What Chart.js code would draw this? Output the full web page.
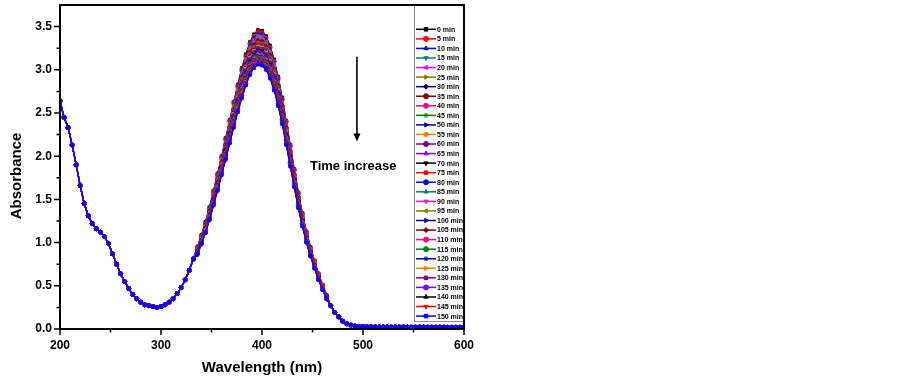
<!DOCTYPE html>
<html>
<head>
<meta charset="utf-8">
<script src="https://cdn.jsdelivr.net/npm/chart.js@4.4.0/dist/chart.umd.min.js"></script>
<style>
  html, body { margin: 0; padding: 0; background: #fff; }
  #wrap { width: 903px; height: 382px; }
</style>
</head>
<body>
<div id="wrap"><canvas id="spectra" width="903" height="382"></canvas></div>
<script>
// --- Data ---
const times = [0, 5, 10, 15, 20, 25, 30, 35, 40, 45, 50, 55, 60, 65, 70, 75,
  80, 85, 90, 95, 100, 105, 110, 115, 120, 125, 130, 135, 140, 145, 150];

const wavelengths = [200, 204, 208, 212, 216, 220, 224, 228, 232, 236, 240, 244, 248, 252, 256, 260,
  264, 268, 272, 276, 280, 284, 288, 292, 296, 300, 304, 308, 312, 316, 320, 324, 328, 332,
  336, 340, 344, 348, 352, 356, 360, 364, 368, 372, 376, 380, 384, 388, 392, 396, 400, 404,
  408, 412, 416, 420, 424, 428, 432, 436, 440, 444, 448, 452, 456, 460, 464,
  468, 472, 476, 480, 484, 488, 492, 496, 500, 504, 508, 512, 516, 520, 524, 528, 532, 536,
  540, 544, 548, 552, 556, 560, 564, 568, 572, 576, 580, 584, 588, 592, 596, 600];

// 200-332 nm: all curves lie on top of each other
const uvEdge = [2.64, 2.45, 2.33, 2.13, 1.90, 1.66, 1.45, 1.31, 1.22, 1.16, 1.12, 1.07, 0.99, 0.87,
  0.75, 0.64, 0.55, 0.47, 0.40, 0.35, 0.31, 0.28, 0.27, 0.26, 0.25, 0.26, 0.28, 0.31, 0.35, 0.41,
  0.48, 0.57, 0.68, 0.81];

// 468-600 nm: all curves lie on top of each other
const tailEdge = [0.27, 0.19, 0.14, 0.09, 0.06, 0.045, 0.035, 0.03, 0.027, 0.026, 0.025, 0.025,
  0.024, 0.024, 0.024, 0.023, 0.023, 0.023, 0.023, 0.022, 0.022, 0.022, 0.022, 0.022, 0.021,
  0.021, 0.021, 0.021, 0.021, 0.02, 0.02, 0.02, 0.02, 0.02];

// 336-464 nm band, one array per time
const abs0min = [0.95,1.09,1.24,1.41,1.60,1.80,2.00,2.21,2.42,2.63,2.83,3.02,3.18,3.32,3.41,3.46,3.45,3.39,3.28,3.12,2.92,2.68,2.41,2.13,1.85,1.58,1.34,1.13,0.95,0.79,0.64,0.51,0.39];
const abs5min = [0.95,1.08,1.23,1.40,1.59,1.79,1.99,2.20,2.41,2.62,2.81,3.00,3.16,3.30,3.39,3.44,3.43,3.37,3.26,3.10,2.90,2.66,2.40,2.12,1.84,1.57,1.33,1.12,0.94,0.79,0.64,0.51,0.39];
const abs10min = [0.94,1.08,1.23,1.40,1.58,1.78,1.98,2.19,2.39,2.60,2.80,2.99,3.14,3.28,3.37,3.42,3.41,3.35,3.24,3.08,2.89,2.65,2.38,2.11,1.83,1.56,1.32,1.12,0.94,0.78,0.63,0.50,0.39];
const abs15min = [0.94,1.07,1.22,1.39,1.57,1.77,1.97,2.17,2.38,2.59,2.78,2.97,3.13,3.26,3.35,3.40,3.39,3.33,3.22,3.07,2.87,2.63,2.37,2.09,1.82,1.55,1.32,1.11,0.93,0.78,0.63,0.50,0.38];
const abs20min = [0.93,1.07,1.21,1.38,1.57,1.76,1.96,2.16,2.37,2.57,2.77,2.95,3.11,3.24,3.33,3.38,3.37,3.31,3.20,3.05,2.85,2.62,2.35,2.08,1.81,1.54,1.31,1.10,0.93,0.77,0.63,0.50,0.38];
const abs25min = [0.93,1.06,1.21,1.37,1.56,1.75,1.95,2.15,2.35,2.56,2.75,2.93,3.09,3.22,3.31,3.36,3.35,3.29,3.19,3.03,2.84,2.60,2.34,2.07,1.80,1.53,1.30,1.10,0.92,0.77,0.62,0.50,0.38];
const abs30min = [0.92,1.06,1.20,1.37,1.55,1.74,1.93,2.14,2.34,2.54,2.73,2.92,3.07,3.20,3.29,3.34,3.33,3.27,3.17,3.01,2.82,2.59,2.33,2.06,1.79,1.53,1.29,1.09,0.92,0.76,0.62,0.49,0.38];
const abs35min = [0.92,1.05,1.20,1.36,1.54,1.74,1.93,2.13,2.33,2.53,2.72,2.91,3.06,3.20,3.28,3.33,3.32,3.26,3.16,3.00,2.81,2.58,2.32,2.05,1.78,1.52,1.29,1.09,0.91,0.76,0.62,0.49,0.38];
const abs40min = [0.92,1.05,1.19,1.35,1.54,1.73,1.92,2.12,2.32,2.52,2.71,2.89,3.04,3.18,3.26,3.31,3.30,3.24,3.14,2.99,2.79,2.56,2.31,2.04,1.77,1.51,1.28,1.08,0.91,0.76,0.61,0.49,0.37];
const abs45min = [0.91,1.05,1.19,1.35,1.53,1.72,1.91,2.11,2.31,2.51,2.70,2.88,3.03,3.17,3.25,3.30,3.29,3.23,3.13,2.98,2.78,2.56,2.30,2.03,1.76,1.51,1.28,1.08,0.91,0.75,0.61,0.49,0.37];
const abs50min = [0.91,1.04,1.18,1.34,1.52,1.71,1.90,2.10,2.30,2.50,2.68,2.86,3.02,3.15,3.23,3.28,3.27,3.21,3.11,2.96,2.77,2.54,2.28,2.02,1.75,1.50,1.27,1.07,0.90,0.75,0.61,0.48,0.37];
const abs55min = [0.91,1.04,1.18,1.34,1.52,1.71,1.90,2.09,2.29,2.49,2.68,2.85,3.01,3.14,3.22,3.27,3.26,3.20,3.10,2.95,2.76,2.53,2.28,2.01,1.75,1.49,1.27,1.07,0.90,0.75,0.61,0.48,0.37];
const abs60min = [0.90,1.03,1.17,1.33,1.51,1.70,1.88,2.08,2.28,2.47,2.66,2.84,2.99,3.12,3.20,3.25,3.24,3.18,3.08,2.93,2.74,2.52,2.26,2.00,1.74,1.48,1.26,1.06,0.89,0.74,0.60,0.48,0.37];
const abs65min = [0.90,1.03,1.17,1.33,1.51,1.69,1.88,2.07,2.27,2.47,2.65,2.83,2.98,3.11,3.19,3.24,3.23,3.17,3.07,2.92,2.73,2.51,2.26,1.99,1.73,1.48,1.26,1.06,0.89,0.74,0.60,0.48,0.37];
const abs70min = [0.90,1.03,1.17,1.32,1.50,1.69,1.87,2.07,2.26,2.46,2.64,2.82,2.97,3.10,3.18,3.23,3.22,3.16,3.06,2.91,2.73,2.50,2.25,1.99,1.73,1.48,1.25,1.06,0.89,0.74,0.60,0.48,0.36];
const abs75min = [0.89,1.02,1.16,1.32,1.49,1.68,1.86,2.05,2.25,2.45,2.63,2.80,2.95,3.08,3.16,3.21,3.20,3.15,3.04,2.90,2.71,2.49,2.24,1.98,1.72,1.47,1.24,1.05,0.88,0.73,0.60,0.48,0.36];
const abs80min = [0.89,1.02,1.16,1.31,1.49,1.67,1.86,2.05,2.24,2.44,2.62,2.79,2.94,3.07,3.15,3.20,3.19,3.14,3.03,2.89,2.70,2.48,2.23,1.97,1.71,1.46,1.24,1.05,0.88,0.73,0.59,0.47,0.36];
const abs85min = [0.89,1.02,1.15,1.31,1.48,1.67,1.85,2.04,2.24,2.43,2.61,2.79,2.93,3.06,3.14,3.19,3.18,3.13,3.02,2.88,2.69,2.47,2.22,1.96,1.71,1.46,1.24,1.04,0.88,0.73,0.59,0.47,0.36];
const abs90min = [0.89,1.01,1.15,1.31,1.48,1.66,1.85,2.04,2.23,2.42,2.60,2.78,2.93,3.05,3.13,3.18,3.17,3.12,3.01,2.87,2.68,2.46,2.21,1.96,1.70,1.45,1.23,1.04,0.87,0.73,0.59,0.47,0.36];
const abs95min = [0.89,1.01,1.15,1.30,1.48,1.66,1.84,2.03,2.22,2.42,2.60,2.77,2.92,3.04,3.12,3.17,3.16,3.11,3.00,2.86,2.67,2.46,2.21,1.95,1.69,1.45,1.23,1.04,0.87,0.72,0.59,0.47,0.36];
const abs100min = [0.88,1.01,1.14,1.30,1.47,1.65,1.83,2.02,2.22,2.41,2.59,2.76,2.91,3.03,3.11,3.16,3.15,3.10,2.99,2.85,2.67,2.45,2.20,1.95,1.69,1.44,1.22,1.03,0.87,0.72,0.59,0.47,0.36];
const abs105min = [0.88,1.01,1.14,1.30,1.47,1.65,1.83,2.02,2.21,2.40,2.58,2.75,2.90,3.02,3.10,3.15,3.14,3.09,2.99,2.84,2.66,2.44,2.19,1.94,1.68,1.44,1.22,1.03,0.87,0.72,0.58,0.47,0.36];
const abs110min = [0.88,1.00,1.14,1.29,1.46,1.64,1.82,2.01,2.20,2.39,2.57,2.74,2.89,3.01,3.09,3.14,3.13,3.08,2.98,2.83,2.65,2.43,2.19,1.93,1.68,1.43,1.22,1.03,0.86,0.72,0.58,0.47,0.35];
const abs115min = [0.88,1.00,1.13,1.29,1.46,1.64,1.82,2.01,2.20,2.39,2.56,2.73,2.88,3.00,3.08,3.13,3.12,3.07,2.97,2.82,2.64,2.42,2.18,1.93,1.67,1.43,1.21,1.02,0.86,0.72,0.58,0.46,0.35];
const abs120min = [0.88,1.00,1.13,1.28,1.45,1.63,1.81,2.00,2.19,2.38,2.55,2.72,2.87,2.99,3.08,3.12,3.11,3.06,2.96,2.81,2.63,2.42,2.17,1.92,1.67,1.43,1.21,1.02,0.86,0.71,0.58,0.46,0.35];
const abs125min = [0.87,0.99,1.13,1.28,1.45,1.63,1.81,1.99,2.18,2.37,2.55,2.72,2.86,2.98,3.07,3.11,3.10,3.05,2.95,2.81,2.62,2.41,2.17,1.91,1.66,1.42,1.21,1.02,0.86,0.71,0.58,0.46,0.35];
const abs130min = [0.87,0.99,1.12,1.28,1.45,1.62,1.80,1.99,2.18,2.36,2.54,2.71,2.85,2.97,3.06,3.10,3.09,3.04,2.94,2.80,2.62,2.40,2.16,1.91,1.66,1.42,1.20,1.01,0.85,0.71,0.58,0.46,0.35];
const abs135min = [0.87,0.99,1.12,1.27,1.44,1.62,1.80,1.98,2.17,2.36,2.53,2.70,2.84,2.96,3.05,3.09,3.08,3.03,2.93,2.79,2.61,2.39,2.15,1.90,1.65,1.41,1.20,1.01,0.85,0.71,0.57,0.46,0.35];
const abs140min = [0.87,0.99,1.12,1.27,1.44,1.61,1.79,1.97,2.16,2.35,2.52,2.69,2.83,2.96,3.04,3.08,3.07,3.02,2.92,2.78,2.60,2.39,2.14,1.90,1.65,1.41,1.19,1.01,0.85,0.70,0.57,0.46,0.35];
const abs145min = [0.86,0.98,1.12,1.27,1.43,1.61,1.79,1.97,2.15,2.34,2.51,2.68,2.83,2.95,3.03,3.07,3.06,3.01,2.91,2.77,2.59,2.38,2.14,1.89,1.64,1.40,1.19,1.00,0.84,0.70,0.57,0.46,0.35];
const abs150min = [0.86,0.98,1.11,1.26,1.43,1.60,1.78,1.96,2.15,2.33,2.51,2.67,2.82,2.94,3.02,3.06,3.05,3.00,2.90,2.76,2.58,2.37,2.13,1.88,1.64,1.40,1.19,1.00,0.84,0.70,0.57,0.45,0.35];

const peakBands = [abs0min, abs5min, abs10min, abs15min, abs20min, abs25min, abs30min, abs35min,
  abs40min, abs45min, abs50min, abs55min, abs60min, abs65min, abs70min, abs75min, abs80min,
  abs85min, abs90min, abs95min, abs100min, abs105min, abs110min, abs115min, abs120min,
  abs125min, abs130min, abs135min, abs140min, abs145min, abs150min];

const xTickLabels = [200, 300, 400, 500, 600];
const xMinorTicks = [250, 350, 450, 550];
const yTickLabels = [0, 0.5, 1.0, 1.5, 2.0, 2.5, 3.0, 3.5];
const yMinorTicks = [0.25, 0.75, 1.25, 1.75, 2.25, 2.75, 3.25];

// --- Styles ---
const palette = ['#000000', '#FF0000', '#0000FF', '#008080', '#FF00FF', '#808000', '#000080',
  '#800000', '#FF0080', '#008000', '#0000A0', '#FF8000', '#800080', '#8000FF'];
const markers = [
  ['rect', 0], ['circle', 0], ['triangle', 0], ['triangle', 180], ['triangle', -90],
  ['triangle', 90], ['rectRot', 0], ['circle', 0], ['circle', 0], ['star', 0],
  ['triangle', 90], ['rect', 0], ['circle', 0], ['triangle', 0], ['triangle', 180]
];
const FONT = "'Liberation Sans', Arial, Helvetica, sans-serif";

const datasets = times.map((t, k) => {
  const values = uvEdge.concat(peakBands[k], tailEdge);
  const color = palette[k % palette.length];
  const [style, rot] = markers[k % markers.length];
  return {
    label: t + ' min',
    data: wavelengths.map((w, i) => ({ x: w, y: values[i] })),
    borderColor: color,
    backgroundColor: color,
    borderWidth: 1.2,
    pointStyle: style,
    pointRotation: rot,
    pointRadius: 2,
    pointBorderWidth: 1,
    pointBackgroundColor: color,
    pointBorderColor: color,
    order: times.length - k
  };
});

// frame, ticks, legend box, titles and the arrow note
const decorations = {
  id: 'decorations',
  afterDatasetsDraw(chart) {
    const { ctx, chartArea: a, scales: { x, y } } = chart;
    ctx.save();

    // legend box inside the plot
    const box = { left: 414, right: a.right, top: a.top, bottom: 322 };
    ctx.fillStyle = '#ffffff';
    ctx.fillRect(box.left, box.top, box.right - box.left, box.bottom - box.top);
    ctx.strokeStyle = '#8c8c8c';
    ctx.lineWidth = 1;
    ctx.strokeRect(box.left + 0.5, box.top + 0.5, box.right - box.left - 1, box.bottom - box.top - 1);
    ctx.save();
    ctx.beginPath();
    ctx.rect(box.left, box.top, box.right - box.left - 1, box.bottom - box.top);
    ctx.clip();
    ctx.font = 'bold 7px ' + FONT;
    ctx.textBaseline = 'middle';
    ctx.textAlign = 'left';
    chart.data.datasets.forEach((ds, i) => {
      const ly = 29.3 + i * 9.56;
      ctx.strokeStyle = ds.borderColor;
      ctx.lineWidth = 1.5;
      ctx.beginPath();
      ctx.moveTo(416, ly);
      ctx.lineTo(436, ly);
      ctx.stroke();
      ctx.fillStyle = ds.borderColor;
      ctx.lineWidth = 1;
      if (Chart.helpers && Chart.helpers.drawPoint) {
        Chart.helpers.drawPoint(ctx, { pointStyle: ds.pointStyle, rotation: ds.pointRotation, radius: 2.5, borderWidth: 1 }, 426, ly);
      } else {
        ctx.fillRect(424, ly - 2, 4, 4);
      }
      ctx.fillStyle = '#000';
      ctx.fillText(ds.label, 437, ly + 0.5);
    });
    ctx.restore();

    // arrow + note
    const ax = x.getPixelForValue(494);
    const ay0 = y.getPixelForValue(3.15);
    const ay1 = y.getPixelForValue(2.17);
    ctx.strokeStyle = '#000';
    ctx.fillStyle = '#000';
    ctx.lineWidth = 1.6;
    ctx.beginPath();
    ctx.moveTo(ax, ay0);
    ctx.lineTo(ax, ay1 - 6);
    ctx.stroke();
    ctx.beginPath();
    ctx.moveTo(ax - 3.5, ay1 - 8);
    ctx.lineTo(ax + 3.5, ay1 - 8);
    ctx.lineTo(ax, ay1);
    ctx.closePath();
    ctx.fill();
    ctx.font = 'bold 13px ' + FONT;
    ctx.textAlign = 'left';
    ctx.textBaseline = 'middle';
    ctx.fillText('Time increase', x.getPixelForValue(447.5), y.getPixelForValue(1.88));

    // frame
    ctx.lineWidth = 2;
    ctx.strokeStyle = '#000';
    ctx.strokeRect(a.left, a.top, a.right - a.left, a.bottom - a.top);

    // ticks (outward)
    ctx.lineWidth = 1.5;
    ctx.beginPath();
    xTickLabels.forEach(v => { const px = x.getPixelForValue(v); ctx.moveTo(px, a.bottom); ctx.lineTo(px, a.bottom + 6); });
    xMinorTicks.forEach(v => { const px = x.getPixelForValue(v); ctx.moveTo(px, a.bottom); ctx.lineTo(px, a.bottom + 3.5); });
    yTickLabels.forEach(v => { const py = y.getPixelForValue(v); ctx.moveTo(a.left, py); ctx.lineTo(a.left - 6, py); });
    yMinorTicks.forEach(v => { const py = y.getPixelForValue(v); ctx.moveTo(a.left, py); ctx.lineTo(a.left - 3.5, py); });
    ctx.stroke();

    // axis titles
    ctx.font = 'bold 15px ' + FONT;
    ctx.textAlign = 'center';
    ctx.textBaseline = 'middle';
    ctx.fillText('Wavelength (nm)', (a.left + a.right) / 2, 368);
    ctx.save();
    ctx.translate(17, 176);
    ctx.rotate(-Math.PI / 2);
    ctx.fillText('Absorbance', 0, 0);
    ctx.restore();

    ctx.restore();
  }
};

const ctx = document.getElementById('spectra').getContext('2d');
const chart = new Chart(ctx, {
  type: 'line',
  data: { datasets },
  options: {
    responsive: false,
    animation: false,
    devicePixelRatio: 1,
    layout: { padding: { top: 3, right: 439, left: 0, bottom: 0 } },
    plugins: { legend: { display: false }, tooltip: { enabled: false } },
    scales: {
      x: {
        type: 'linear',
        min: 200,
        max: 600,
        afterFit: s => { s.height = 53; s.paddingLeft = 0; s.paddingRight = 0; },
        afterBuildTicks: s => { s.ticks = xTickLabels.map(v => ({ value: v })); },
        grid: { display: false, drawTicks: false },
        border: { display: false },
        ticks: {
          padding: 9,
          maxRotation: 0,
          autoSkip: false,
          color: '#000',
          font: { family: FONT, size: 12, weight: 'bold' },
          callback: v => String(v)
        }
      },
      y: {
        type: 'linear',
        min: 0,
        max: 3.75,
        afterFit: s => { s.width = 60; s.paddingTop = 0; s.paddingBottom = 0; },
        afterBuildTicks: s => { s.ticks = yTickLabels.map(v => ({ value: v })); },
        grid: { display: false, drawTicks: false },
        border: { display: false },
        ticks: {
          padding: 8,
          autoSkip: false,
          color: '#000',
          font: { family: FONT, size: 12, weight: 'bold' },
          callback: v => Number(v).toFixed(1)
        }
      }
    }
  },
  plugins: [decorations]
});
</script>
</body>
</html>
